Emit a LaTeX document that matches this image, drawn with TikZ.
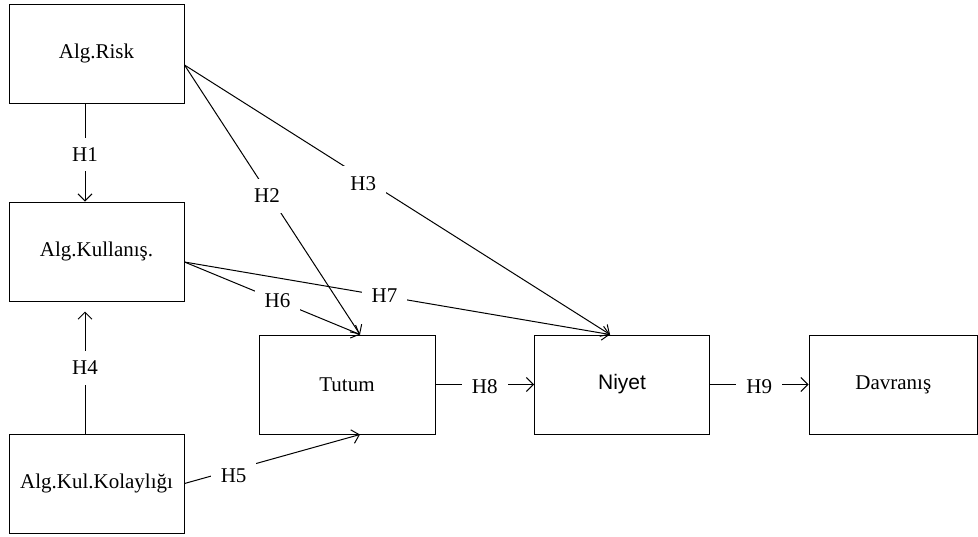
\documentclass[tikz,border=0pt]{standalone}
\usepackage{fontspec}
\setmainfont{Liberation Serif}
\newfontfamily\arialfont{Liberation Sans}
\usepackage{tikz}
\usetikzlibrary{
  arrows,
  arrows.meta,
  calc
}
\tikzset{
  construct/.style={
    draw,
    line width=0.5pt,
    minimum width=87.5pt,
    minimum height=49.5pt,
    font=\fontsize{10.5}{12}\selectfont},
  hyp/.style={
    line width=0.5pt,
    >={Straight Barb[length=3.5pt,width=7pt]},
    every edge/.style={draw, ->},
    font=\fontsize{10.5}{12}\selectfont},
  hlabel/.style={
    fill=white,
    inner sep=5pt}
  }

\begin{document}
\begin{tikzpicture}[x=0.5pt,y=-0.5pt]
      \useasboundingbox (0,0) rectangle (978,536);
      \node[construct] (risk) at (96.5,53.5) {Alg.Risk};
      \node[construct] (kull) at (96.5,251.5) {Alg.Kullanış.};
      \node[construct] (kolay) at (96.5,483.5) {Alg.Kul.Kolaylığı};
      \node[construct, minimum width=88pt] (tutum) at (347,384.5) {Tutum};
      \node[construct, font=\fontsize{10.5}{12}\arialfont] (niyet) at (622,384.5) {Niyet};
      \node[construct, minimum width=84.25pt] (davr) at (893.25,384.5) {Davranış};
      \draw [hyp]
      ([xshift=-5.75pt]risk.south) edge[] node[hlabel, yshift=-1pt]{H1} ([xshift=-5.75pt]kull.north)
      ([yshift=-5.75pt]risk.east) edge[] node[hlabel, pos=0.47, yshift=-2pt]{H2} ([xshift=6.5pt]tutum.north)
      ([yshift=-5.75pt]risk.east) edge[] node[hlabel, pos=0.42, yshift=-2.5pt]{H3} ([xshift=-6pt]niyet.north)
      ([xshift=-5.75pt]kolay.north) edge[] node[hlabel, pos=0.54]{H4} ([xshift=-5.75pt,yshift=-5pt]kull.south)
      (kolay.east) edge[] node[hlabel, pos=0.28, yshift=-3pt]{H5} ([xshift=6.5pt]tutum.south)
      ([yshift=-5.25pt]kull.east) edge[] node[hlabel, pos=0.53]{H6} ([xshift=6.5pt]tutum.north)
      ([yshift=-5.25pt]kull.east) edge[] node[hlabel, pos=0.47]{H7} ([xshift=-6pt]niyet.north)
      (tutum) edge[] node[hlabel, yshift=-1pt]{H8} (niyet)
      (niyet) edge[] node[hlabel, yshift=-1pt]{H9} (davr);
    \end{tikzpicture}
\end{document}
